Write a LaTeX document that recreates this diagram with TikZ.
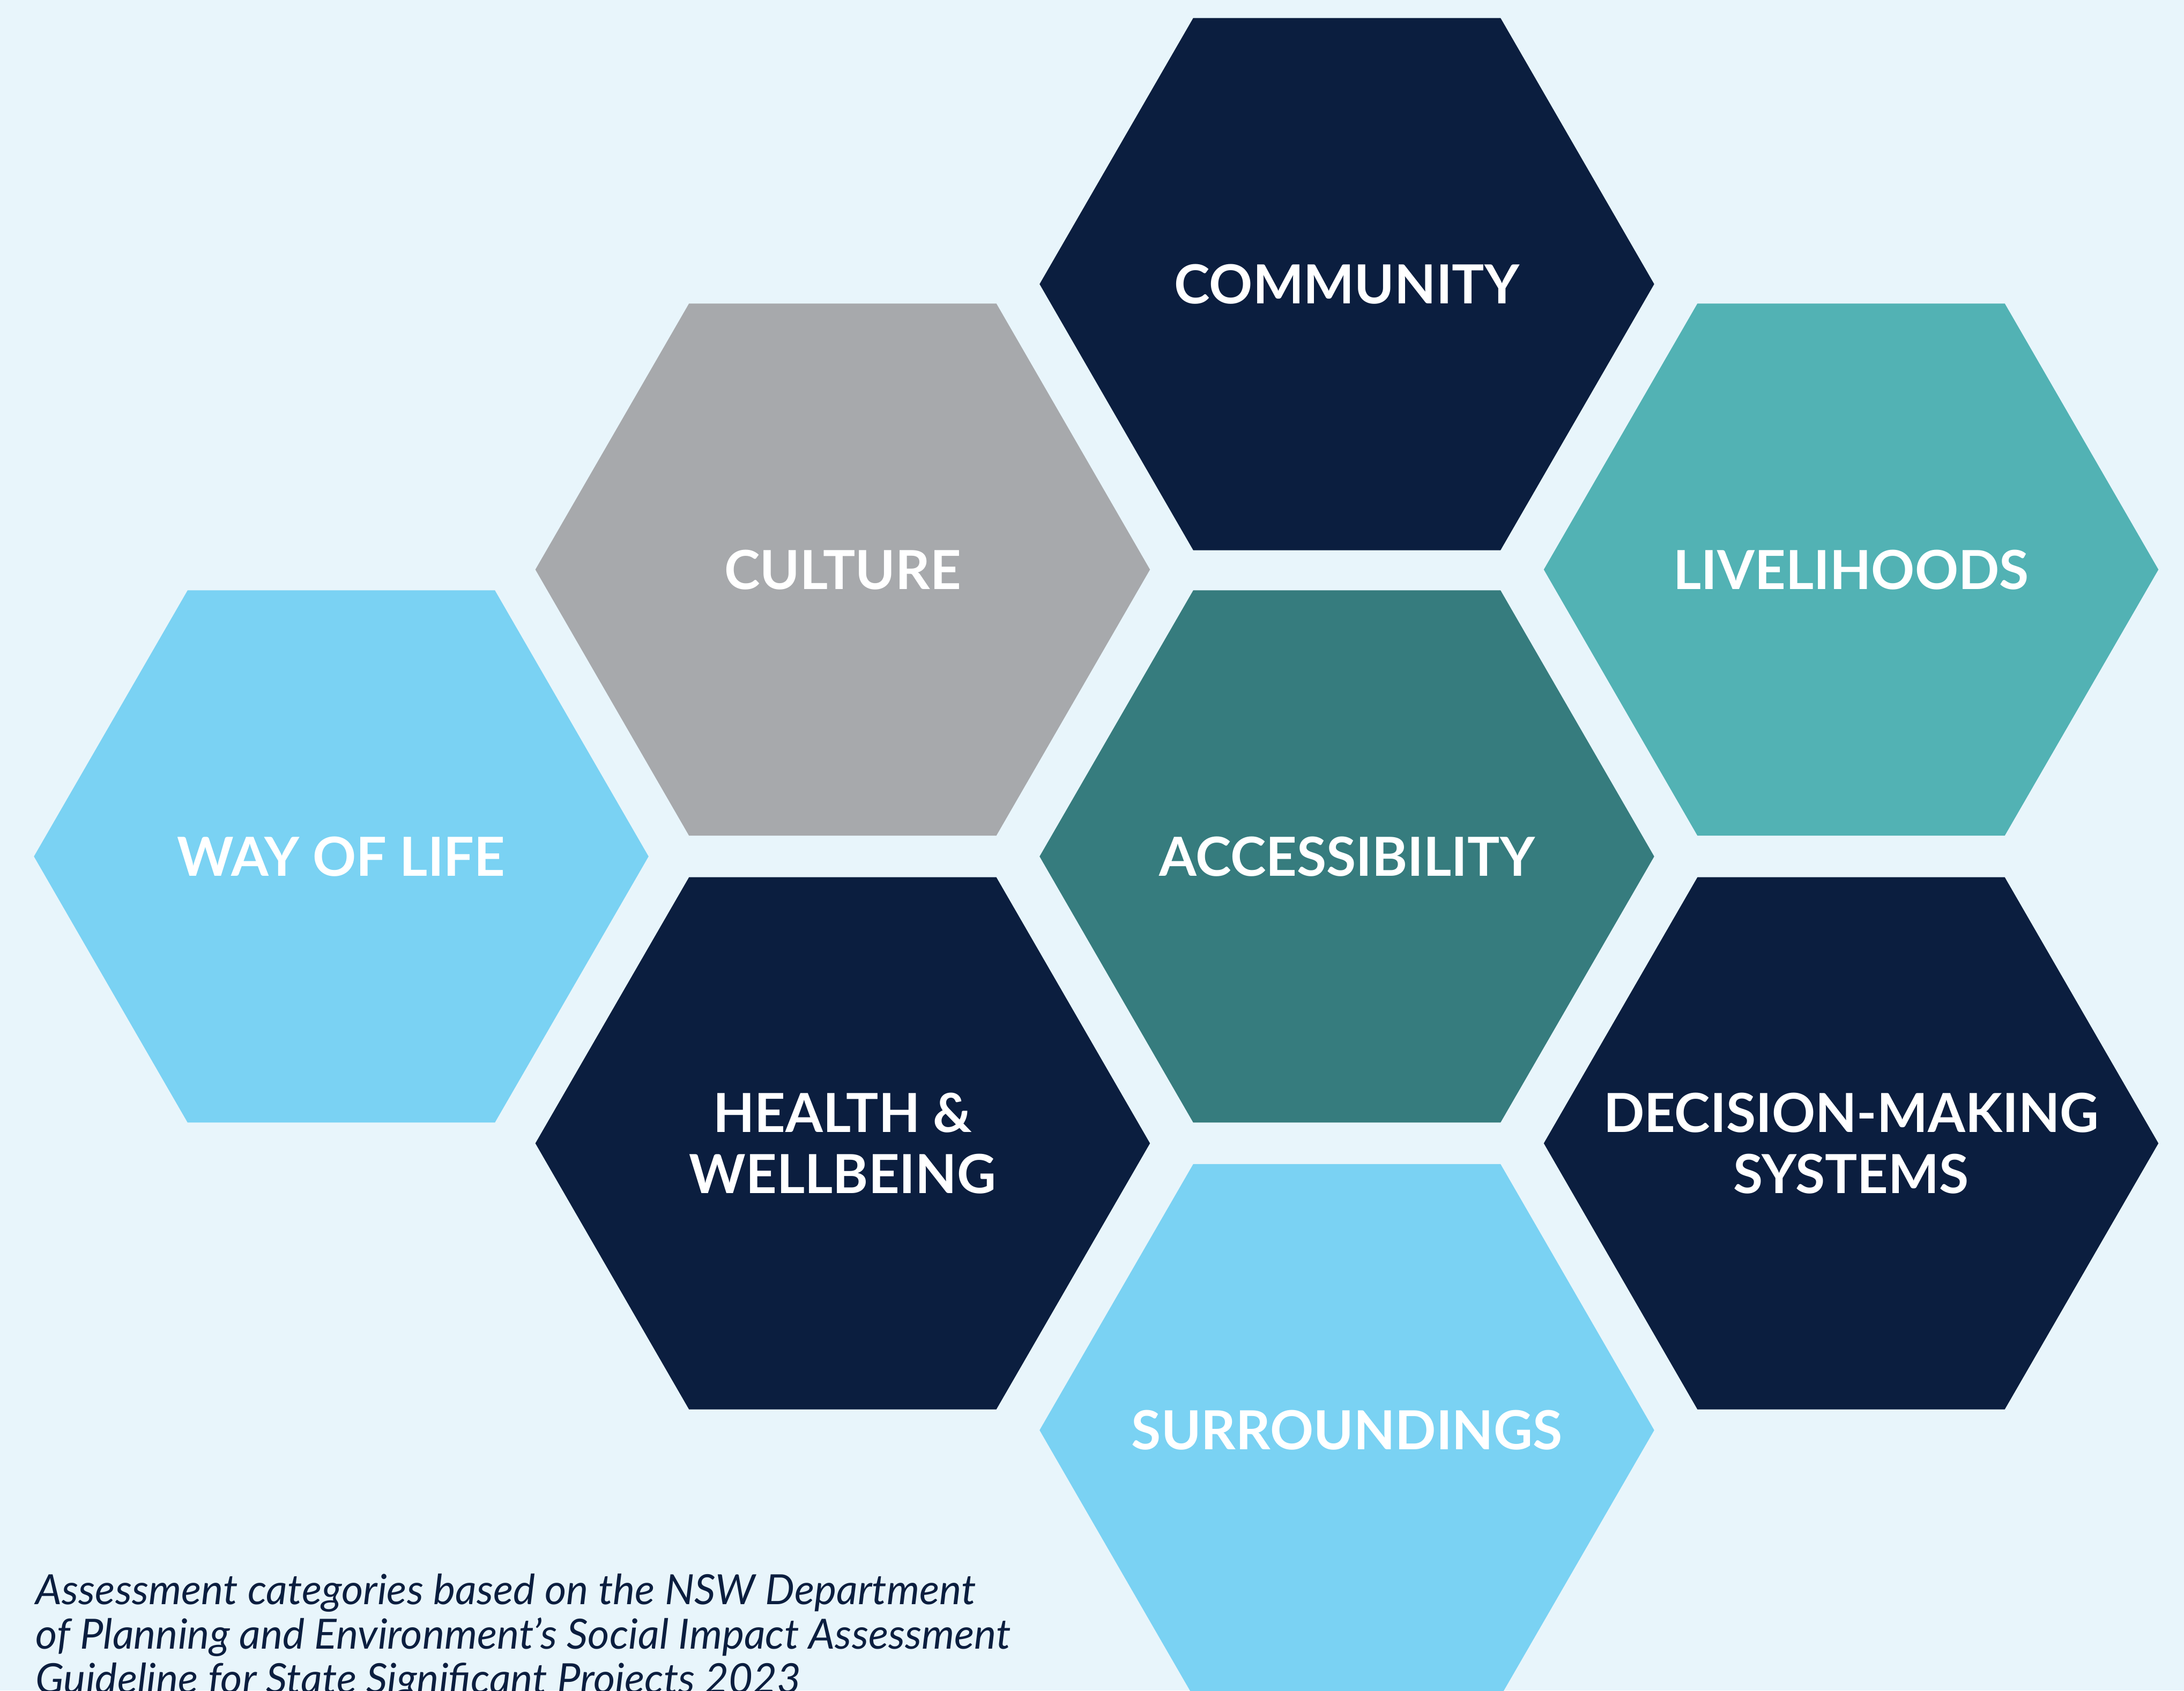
\documentclass[tikz,border=0pt]{standalone}
\usepackage{fontspec}
\setmainfont{Lato}
\usetikzlibrary{shapes.geometric}

\definecolor{navy}{HTML}{0B1E3F}
\definecolor{stone}{HTML}{A7A9AC}
\definecolor{lightteal}{HTML}{52B2B4}
\definecolor{darkteal}{HTML}{367C7E}
\definecolor{sky}{HTML}{7AD2F3}
\definecolor{paper}{HTML}{E8F5FB}

\begin{document}
\begin{tikzpicture}[x=0.01cm,y=-0.01cm,
    hexa/.style={regular polygon, regular polygon sides=6, minimum size=4.41cm,
        inner sep=0pt, outer sep=0pt},
    hexlabel/.style={text=white, align=center, inner sep=0pt,
        font=\fontsize{11}{12.5}\selectfont\bfseries},
    note/.style={anchor=base west, align=left, text=navy, inner sep=0pt,
        font=\fontsize{8.5}{9.1}\selectfont\itshape}]
        \clip (0,0) rectangle (1568,1214);
        \fill[paper] (0,0) rectangle (1568,1214);

        \node[hexa, fill=navy, label={[hexlabel]center:COMMUNITY}] (community) at (967,204) {};
        \node[hexa, fill=stone, label={[hexlabel]center:CULTURE}] (culture) at (605,409) {};
        \node[hexa, fill=lightteal, label={[hexlabel]center:LIVELIHOODS}] (livelihoods) at (1329,409) {};
        \node[hexa, fill=sky, label={[hexlabel]center:WAY OF LIFE}] (wayoflife) at (245,615) {};
        \node[hexa, fill=darkteal, label={[hexlabel]center:ACCESSIBILITY}] (accessibility) at (967,615) {};
        \node[hexa, fill=navy, label={[hexlabel]center:HEALTH \&\\WELLBEING}] (health) at (605,821) {};
        \node[hexa, fill=navy, label={[hexlabel]center:DECISION-MAKING\\SYSTEMS}] (decision) at (1329,821) {};
        \node[hexa, fill=sky, label={[hexlabel]center:SURROUNDINGS}] (surroundings) at (967,1027) {};

        \node[note] (source) at (25,1216) {Assessment categories based on the NSW Department\\of Planning and Environment’s Social Impact Assessment\\Guideline for State Significant Projects 2023};
    \end{tikzpicture}
\end{document}
